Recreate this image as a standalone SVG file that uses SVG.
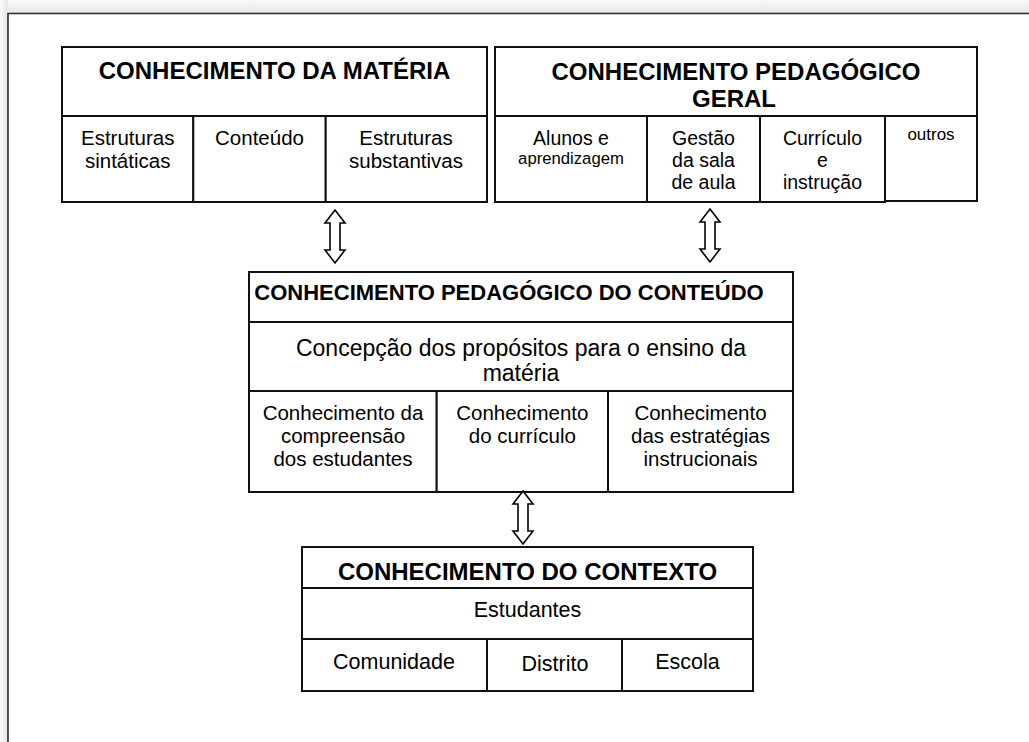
<svg xmlns="http://www.w3.org/2000/svg" width="1029" height="742" viewBox="0 0 1029 742">
  <defs>
    <linearGradient id="gTop" x1="0" y1="0" x2="0" y2="1">
      <stop offset="0" stop-color="#fbfbfb"/>
      <stop offset="1" stop-color="#e4e4e4"/>
    </linearGradient>
    <linearGradient id="gLeft" x1="0" y1="0" x2="1" y2="0">
      <stop offset="0" stop-color="#fbfbfb"/>
      <stop offset="1" stop-color="#e4e4e4"/>
    </linearGradient>
    <path id="dblArrow" d="M0,0 L10,13 L5,13 L5,40 L10,40 L0,53 L-10,40 L-5,40 L-5,13 L-10,13 Z"/>
  </defs>
  <style>
    .cell { fill: #ffffff; stroke: #111111; stroke-width: 2; }
    .t { font-family: "Liberation Sans", Arial, sans-serif; fill: #000000; text-anchor: middle; }
    .title { font-weight: bold; font-size: 24px; }
    .sub { font-size: 20.5px; }
    .arrow { fill: #ffffff; stroke: #000000; stroke-width: 1.6; stroke-linejoin: miter; }
  </style>

  <!-- page background / frame -->
  <rect x="0" y="0" width="1029" height="742" fill="#ffffff"/>
  <rect x="0" y="0" width="1029" height="13" fill="url(#gTop)"/>
  <rect x="0" y="0" width="8" height="742" fill="url(#gLeft)"/>
  <path d="M8,742 L8,13.5 L1029,13.5" fill="none" stroke="#2a2a2a" stroke-width="1.6"/>

  <!-- Conhecimento da matéria -->
  <g id="materia">
    <rect class="cell" x="62" y="47" width="425" height="69"/>
    <rect class="cell" x="62" y="116" width="131.3" height="86"/>
    <rect class="cell" x="193.3" y="116" width="132.4" height="86"/>
    <rect class="cell" x="325.7" y="116" width="161.3" height="86"/>
    <text class="t title" x="274.5" y="79">CONHECIMENTO DA MATÉRIA</text>
    <text class="t sub" x="127.7" y="145">Estruturas</text>
    <text class="t sub" x="127.7" y="168">sintáticas</text>
    <text class="t sub" x="259.5" y="145">Conteúdo</text>
    <text class="t sub" x="406" y="145">Estruturas</text>
    <text class="t sub" x="406" y="168">substantivas</text>
  </g>

  <!-- Conhecimento pedagógico geral -->
  <g id="pedagogico-geral">
    <rect class="cell" x="495" y="47" width="482" height="69"/>
    <rect class="cell" x="495" y="116" width="152" height="86"/>
    <rect class="cell" x="647" y="116" width="113" height="86"/>
    <rect class="cell" x="760" y="116" width="125" height="86"/>
    <rect class="cell" x="885" y="116" width="92" height="85"/>
    <text class="t title" x="736" y="80">CONHECIMENTO PEDAGÓGICO</text>
    <text class="t title" x="734" y="107">GERAL</text>
    <text class="t" font-size="19.5" x="571" y="145">Alunos e</text>
    <text class="t" font-size="16.7" x="571" y="164">aprendizagem</text>
    <text class="t" font-size="19.5" x="703.5" y="145">Gestão</text>
    <text class="t" font-size="19.5" x="703.5" y="167">da sala</text>
    <text class="t" font-size="19.5" x="703.5" y="189">de aula</text>
    <text class="t" font-size="19.5" x="822.5" y="145">Currículo</text>
    <text class="t" font-size="19.5" x="822.5" y="167">e</text>
    <text class="t" font-size="19.5" x="822.5" y="189">instrução</text>
    <text class="t" font-size="17" x="931" y="140">outros</text>
  </g>

  <!-- Conhecimento pedagógico do conteúdo -->
  <g id="pedagogico-conteudo">
    <rect class="cell" x="249" y="272" width="544" height="50"/>
    <rect class="cell" x="249" y="322" width="544" height="69"/>
    <rect class="cell" x="249" y="391" width="187.7" height="101"/>
    <rect class="cell" x="436.7" y="391" width="171.3" height="101"/>
    <rect class="cell" x="608" y="391" width="185" height="101"/>
    <text class="t" font-weight="bold" font-size="22px" x="509" y="300">CONHECIMENTO PEDAGÓGICO DO CONTEÚDO</text>
    <text class="t" font-size="23" x="521" y="356">Concepção dos propósitos para o ensino da</text>
    <text class="t" font-size="23" x="521" y="381">matéria</text>
    <text class="t sub" x="343" y="420">Conhecimento da</text>
    <text class="t sub" x="343" y="443">compreensão</text>
    <text class="t sub" x="343" y="466">dos estudantes</text>
    <text class="t sub" x="522.3" y="420">Conhecimento</text>
    <text class="t sub" x="522.3" y="443">do currículo</text>
    <text class="t sub" x="700.5" y="420">Conhecimento</text>
    <text class="t sub" x="700.5" y="443">das estratégias</text>
    <text class="t sub" x="700.5" y="466">instrucionais</text>
  </g>

  <!-- Conhecimento do contexto -->
  <g id="contexto">
    <rect class="cell" x="302" y="547" width="451" height="41"/>
    <rect class="cell" x="302" y="588" width="451" height="51"/>
    <rect class="cell" x="302" y="639" width="185" height="52"/>
    <rect class="cell" x="487" y="639" width="135" height="52"/>
    <rect class="cell" x="622" y="639" width="131" height="52"/>
    <text class="t title" x="527.5" y="580">CONHECIMENTO DO CONTEXTO</text>
    <text class="t" font-size="21.5" x="527.5" y="617">Estudantes</text>
    <text class="t" font-size="21.5" x="394" y="669">Comunidade</text>
    <text class="t" font-size="21.5" x="555" y="671">Distrito</text>
    <text class="t" font-size="21.5" x="687.5" y="669">Escola</text>
  </g>

  <!-- connectors -->
  <g id="connectors">
    <use href="#dblArrow" class="arrow" x="335" y="210"/>
    <use href="#dblArrow" class="arrow" x="710" y="209"/>
    <use href="#dblArrow" class="arrow" x="523" y="491"/>
  </g>
</svg>
